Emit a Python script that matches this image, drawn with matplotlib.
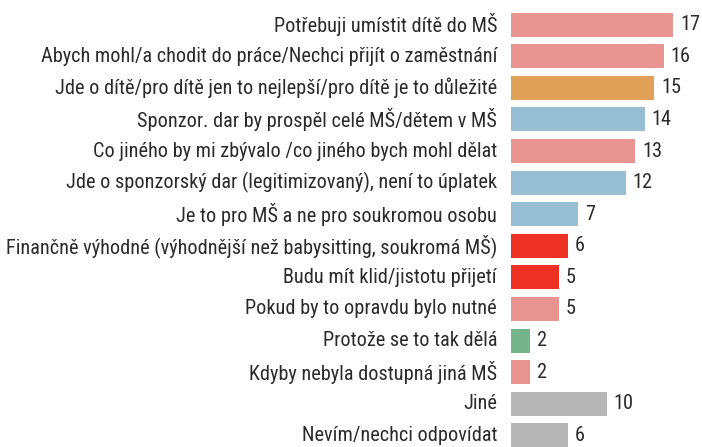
import matplotlib
import matplotlib.pyplot as plt
from matplotlib import font_manager

matplotlib.use("Agg")

categories = [
    "Potřebuji umístit dítě do MŠ",
    "Abych mohl/a chodit do práce/Nechci přijít o zaměstnání",
    "Jde o dítě/pro dítě jen to nejlepší/pro dítě je to důležité",
    "Sponzor. dar by prospěl celé MŠ/dětem v MŠ",
    "Co jiného by mi zbývalo /co jiného bych mohl dělat",
    "Jde o sponzorský dar (legitimizovaný), není to úplatek",
    "Je to pro MŠ a ne pro soukromou osobu",
    "Finančně výhodné (výhodnější než babysitting, soukromá MŠ)",
    "Budu mít klid/jistotu přijetí",
    "Pokud by to opravdu bylo nutné",
    "Protože se to tak dělá",
    "Kdyby nebyla dostupná jiná MŠ",
    "Jiné",
    "Nevím/nechci odpovídat",
]
values = [17, 16, 15, 14, 13, 12, 7, 6, 5, 5, 2, 2, 10, 6]
groups = ["need", "need", "child", "sponsor", "need", "sponsor", "sponsor",
          "gain", "gain", "need", "habit", "need", "other", "other"]

palette = {
    "need": "#E89592",
    "child": "#E0A158",
    "sponsor": "#98BED4",
    "gain": "#EE3125",
    "habit": "#74B38C",
    "other": "#B6B6B6",
}

installed = {f.name for f in font_manager.fontManager.ttflist}
family = "Liberation Sans Narrow" if "Liberation Sans Narrow" in installed else "Roboto Condensed"
if family not in installed:
    family = "DejaVu Sans"
plt.rcParams["font.family"] = [family, "DejaVu Sans"]

text_color = "#2a2a2a"

fig = plt.figure(figsize=(7.02, 4.47), dpi=100)
ax = fig.add_axes([511 / 702, 0, 1 - 511 / 702, 1])

y = list(range(len(values)))
ax.barh(y, values, height=0.76, color=[palette[g] for g in groups])

for i, (cat, val) in enumerate(zip(categories, values)):
    ax.annotate(cat, xy=(0, i), xytext=(-10, 0), textcoords="offset points",
                ha="right", va="center", fontsize=14.6, color=text_color,
                annotation_clip=False)
    ax.annotate(str(val), xy=(val, i), xytext=(5, 0), textcoords="offset points",
                ha="left", va="center", fontsize=14.6, color=text_color,
                annotation_clip=False)

ax.set_xlim(0, 20)
ax.set_ylim(13.37, -0.78)
ax.axis("off")

fig.savefig("out.png", dpi=100)
